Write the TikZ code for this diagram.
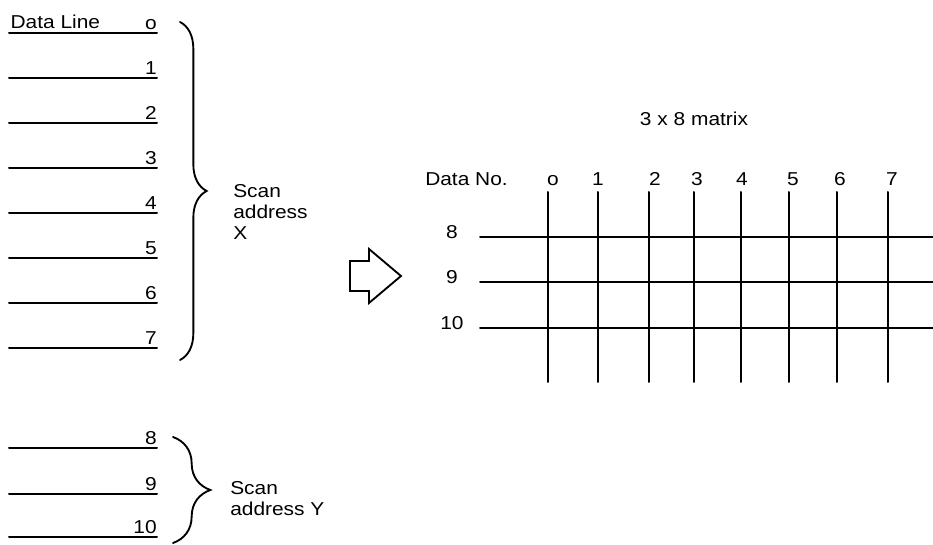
\documentclass[tikz,border=0pt]{standalone}
\usepackage{fontspec}
\setmainfont{Liberation Sans}[FakeStretch=1.12]
\usetikzlibrary{decorations.pathreplacing}
\tikzset{
  wire/.style={line width=1.5pt},
  curly/.style={line width=1.4pt, decorate, decoration={brace, amplitude=#1}},
  lbl/.style={inner sep=0pt}
}
\begin{document}
\begin{tikzpicture}[x=0.75pt, y=-0.75pt, line cap=round, font=\fontsize{14}{16}\selectfont]
\useasboundingbox (0,0) rectangle (933,545);
% --- Data lines 0..7 ---
\foreach \i/\t in {0/o,1/1,2/2,3/3,4/4,5/5,6/6,7/7} {
  \pgfmathsetmacro\yy{33+45*\i}
  \draw[wire] (9,\yy) coordinate (dw\i) -- (157,\yy) coordinate (de\i);
  \node[lbl, anchor=south east] (n\i) at ([yshift=2.5pt]de\i) {\t};
}
\node[lbl, anchor=south west] (dataline) at ([xshift=1pt, yshift=3pt]dw0) {Data Line};
% --- Data lines 8..10 ---
\foreach \i/\yy in {8/448, 9/494, 10/537} {
  \draw[wire] (9,\yy) coordinate (dw\i) -- (157,\yy) coordinate (de\i);
  \node[lbl, anchor=south east] (n\i) at ([yshift=2.5pt]de\i) {\i};
}
% --- Braces ---
\draw[curly=20pt] (180,22) coordinate (bxt) -- (180,360) coordinate (bxb);
\node[lbl, anchor=north west, align=left] (scanx) at (233,184) {Scan\\address\\X};
\draw[curly=28pt] (173,437) coordinate (byt) -- (173,543) coordinate (byb);
\node[lbl, anchor=north west, align=left] (scany) at (230,481) {Scan\\address Y};
% --- Hollow arrow ---
\draw[line width=1.4pt, line join=miter] (350,261) -- (369,261) -- (369,249) -- (401,276) -- (369,303) -- (369,291) -- (350,291) -- cycle;
% --- 3 x 8 matrix ---
\node (title) at (694,119) {3 x 8 matrix};
\node[lbl, anchor=base west] (datano) at (425,186) {Data No.};
\foreach \c/\lx/\vx in {0/553/548, 1/598/598, 2/655/649, 3/697/694, 4/742/741, 5/793/789, 6/840/837, 7/892/888} {
  \ifnum\c=0 \def\t{o}\else \def\t{\c}\fi
  \node[lbl, anchor=base] (col\c) at (\lx,186) {\t};
  \draw[wire] (\vx,192) coordinate (vt\c) -- (\vx,382) coordinate (vb\c);
}
\foreach \r/\yy in {8/237, 9/282, 10/328} {
  \draw[wire] (480,\yy) coordinate (hw\r) -- (933,\yy) coordinate (he\r);
  \node[lbl] (row\r) at (452,\yy-5) {\r};
}
\end{tikzpicture}
\end{document}
